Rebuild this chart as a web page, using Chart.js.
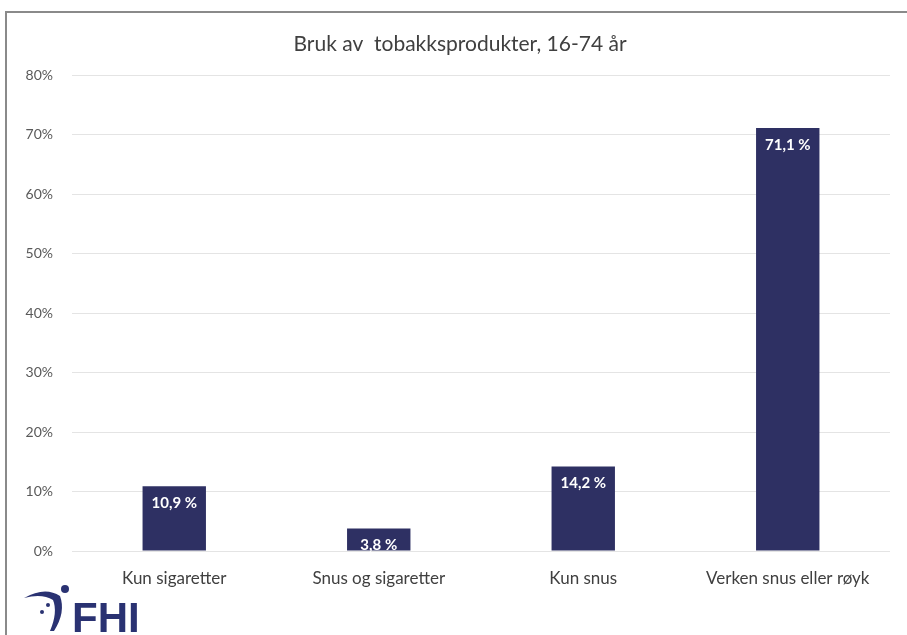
<!DOCTYPE html>
<html>
<head>
<meta charset="utf-8">
<script src="https://cdn.jsdelivr.net/npm/chart.js@4/dist/chart.umd.min.js"></script>
<style>
  html, body { margin: 0; padding: 0; background: #fff; overflow: hidden; }
  #frame { position: absolute; left: 5px; top: 11px; width: 1000px; height: 1000px; border: 2px solid #8a8a8a; }
  #wrap { position: absolute; left: 0; top: 0; width: 907px; height: 635px; }
</style>
</head>
<body>
<div id="frame"></div>
<div id="wrap"><canvas id="barChart"></canvas></div>
<script>
// kategorier og andeler (prosent)
const categories = ['Kun sigaretter', 'Snus og sigaretter', 'Kun snus', 'Verken snus eller røyk'];
const shares = [10.9, 3.8, 14.2, 71.1];
const yTicks = [0, 10, 20, 30, 40, 50, 60, 70, 80];
const chartTitle = 'Bruk av  tobakksprodukter, 16-74 år';

const navy = '#2e3063';
const fontFam = 'Lato, "Open Sans", sans-serif';

// tittel tegnes selv for å styre plasseringen
const titlePlugin = {
  id: 'titlePlugin',
  afterDraw(chart) {
    const ctx = chart.ctx;
    ctx.save();
    ctx.fillStyle = '#404040';
    ctx.font = '21px ' + fontFam;
    ctx.textAlign = 'center';
    ctx.textBaseline = 'middle';
    ctx.fillText(chartTitle, 460, 44);
    ctx.restore();
  }
};

// verdietikett inne i toppen av hver søyle
const valueLabels = {
  id: 'valueLabels',
  afterDatasetsDraw(chart) {
    const ctx = chart.ctx;
    const meta = chart.getDatasetMeta(0);
    ctx.save();
    ctx.fillStyle = '#ffffff';
    ctx.font = 'bold 15px ' + fontFam;
    ctx.textAlign = 'center';
    ctx.textBaseline = 'middle';
    meta.data.forEach((bar, i) => {
      const txt = shares[i].toFixed(1).replace('.', ',') + ' %';
      ctx.fillText(txt, bar.x, bar.y + 17);
    });
    ctx.restore();
  }
};

// FHI-logo nede til venstre
const fhiLogo = {
  id: 'fhiLogo',
  afterDraw(chart) {
    const ctx = chart.ctx;
    ctx.save();
    ctx.fillStyle = '#2a3272';
    // buen
    ctx.beginPath();
    ctx.moveTo(24, 598);
    ctx.quadraticCurveTo(45, 586, 60, 596);
    ctx.quadraticCurveTo(66, 612, 54, 631);
    ctx.lineTo(50, 631);
    ctx.quadraticCurveTo(58, 612, 53, 600);
    ctx.quadraticCurveTo(42, 593, 24, 598);
    ctx.closePath();
    ctx.fill();
    // prikker
    ctx.beginPath(); ctx.arc(65, 589, 4, 0, Math.PI * 2); ctx.fill();
    ctx.beginPath(); ctx.arc(48, 605, 2, 0, Math.PI * 2); ctx.fill();
    ctx.beginPath(); ctx.arc(42, 612, 2, 0, Math.PI * 2); ctx.fill();
    ctx.font = 'bold 42px "Liberation Sans", Arial, sans-serif';
    ctx.textAlign = 'left';
    ctx.textBaseline = 'alphabetic';
    ctx.fillText('FHI', 72, 632);
    ctx.restore();
  }
};

const ctxBar = document.getElementById('barChart');
new Chart(ctxBar, {
  type: 'bar',
  data: {
    labels: categories,
    datasets: [{ data: shares, backgroundColor: navy, barPercentage: 0.62, categoryPercentage: 0.5 }]
  },
  options: {
    responsive: true,
    maintainAspectRatio: false,
    animation: false,
    layout: { padding: { left: 0, right: 17, top: 75, bottom: 44 } },
    plugins: {
      legend: { display: false },
      tooltip: { enabled: false },
      title: { display: false }
    },
    scales: {
      x: {
        grid: { display: false, drawTicks: false },
        border: { display: false },
        ticks: { color: '#404040', font: { family: fontFam, size: 17 }, padding: 17, maxRotation: 0 },
        afterFit: s => { s.height = 40; }
      },
      y: {
        min: 0, max: 80,
        afterBuildTicks: s => { s.ticks = yTicks.map(v => ({ value: v })); },
        grid: { color: '#e4e4e4', lineWidth: 1, drawTicks: false },
        border: { display: false },
        ticks: { color: '#595959', font: { family: fontFam, size: 14 }, padding: 19, callback: v => v + '%' },
        afterFit: s => { s.width = 72; }
      }
    }
  },
  plugins: [titlePlugin, valueLabels, fhiLogo]
});
</script>
</body>
</html>
